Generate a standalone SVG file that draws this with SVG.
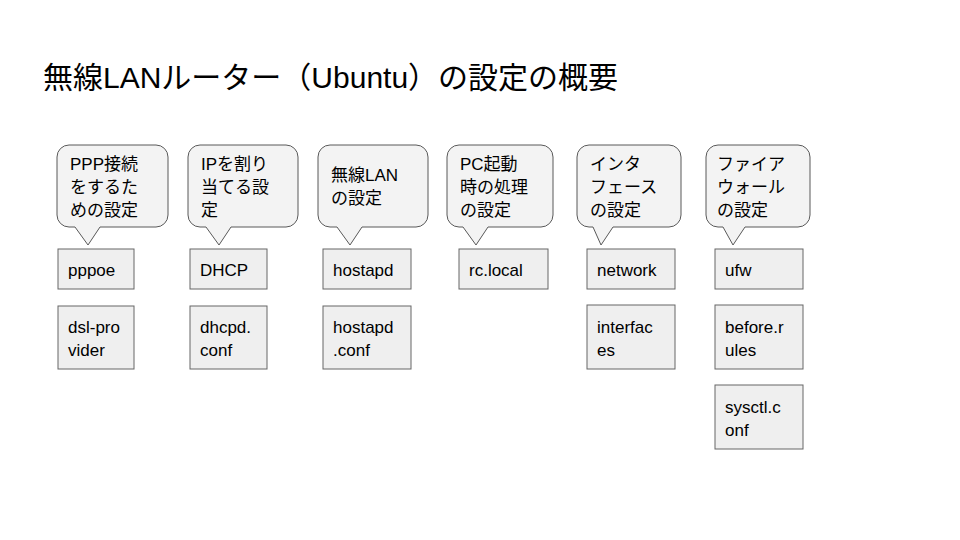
<svg xmlns="http://www.w3.org/2000/svg" width="960" height="540" viewBox="0 0 960 540">
<style>
text{font-family:"Liberation Sans","Noto Sans CJK JP",sans-serif;fill:#000}
.t{font-size:30px}
.c{font-size:17px}
.co{fill:#f3f3f3;stroke:#595959;stroke-width:1}
.b{fill:#efefef;stroke:#666;stroke-width:1}
</style>
<rect width="960" height="540" fill="#fff"/>
<text class="t" x="43" y="88">無線LANルーター（Ubuntu）の設定の概要</text>
<g id="callouts">
<g id="c1"><path class="co" d="M69,145H156A12,12 0 0 1 168,157V215A12,12 0 0 1 156,227H100L88,245L75,227H69A12,12 0 0 1 57,215V157A12,12 0 0 1 69,145Z"/><text class="c" x="70" y="170">PPP接続</text><text class="c" x="70" y="193">をするた</text><text class="c" x="70" y="216">めの設定</text></g>
<g id="c2"><path class="co" d="M200,145H286A12,12 0 0 1 298,157V215A12,12 0 0 1 286,227H231L219,245L206,227H200A12,12 0 0 1 188,215V157A12,12 0 0 1 200,145Z"/><text class="c" x="201" y="170">IPを割り</text><text class="c" x="201" y="193">当てる設</text><text class="c" x="201" y="216">定</text></g>
<g id="c3"><path class="co" d="M330,145H416A12,12 0 0 1 428,157V215A12,12 0 0 1 416,227H362L350,245L337,227H330A12,12 0 0 1 318,215V157A12,12 0 0 1 330,145Z"/><text class="c" x="331" y="181">無線LAN</text><text class="c" x="331" y="204">の設定</text></g>
<g id="c4"><path class="co" d="M459,145H541A12,12 0 0 1 553,157V215A12,12 0 0 1 541,227H488L476,245L463,227H459A12,12 0 0 1 447,215V157A12,12 0 0 1 459,145Z"/><text class="c" x="460" y="170">PC起動</text><text class="c" x="460" y="193">時の処理</text><text class="c" x="460" y="216">の設定</text></g>
<g id="c5"><path class="co" d="M589,145H669A12,12 0 0 1 681,157V215A12,12 0 0 1 669,227H613L601,245L593,227H589A12,12 0 0 1 577,215V157A12,12 0 0 1 589,145Z"/><text class="c" x="590" y="170">インタ</text><text class="c" x="590" y="193">フェース</text><text class="c" x="590" y="216">の設定</text></g>
<g id="c6"><path class="co" d="M718,145H798A12,12 0 0 1 810,157V215A12,12 0 0 1 798,227H745L733,245L723,227H718A12,12 0 0 1 706,215V157A12,12 0 0 1 718,145Z"/><text class="c" x="717" y="170">ファイア</text><text class="c" x="717" y="193">ウォール</text><text class="c" x="717" y="216">の設定</text></g>
</g>
<g id="boxes">
<g id="pppoe"><rect class="b" x="58" y="249" width="76" height="40"/><text class="c" x="68" y="276">pppoe</text></g>
<g id="dsl"><rect class="b" x="58" y="306" width="76" height="63"/><text class="c" x="68" y="333">dsl-pro</text><text class="c" x="68" y="356">vider</text></g>
<g id="dhcp"><rect class="b" x="190" y="249" width="77" height="40"/><text class="c" x="200" y="276">DHCP</text></g>
<g id="dhcpd"><rect class="b" x="190" y="306" width="77" height="63"/><text class="c" x="200" y="333">dhcpd.</text><text class="c" x="200" y="356">conf</text></g>
<g id="hostapd"><rect class="b" x="323" y="249" width="88" height="40"/><text class="c" x="333" y="276">hostapd</text></g>
<g id="hostapdconf"><rect class="b" x="323" y="306" width="88" height="63"/><text class="c" x="333" y="333">hostapd</text><text class="c" x="333" y="356">.conf</text></g>
<g id="rclocal"><rect class="b" x="459" y="249" width="89" height="40"/><text class="c" x="469" y="276">rc.local</text></g>
<g id="network"><rect class="b" x="587" y="249" width="88" height="40"/><text class="c" x="597" y="276">network</text></g>
<g id="interfaces"><rect class="b" x="587" y="305" width="88" height="64"/><text class="c" x="597" y="333">interfac</text><text class="c" x="597" y="356">es</text></g>
<g id="ufw"><rect class="b" x="715" y="249" width="88" height="40"/><text class="c" x="725" y="276">ufw</text></g>
<g id="beforerules"><rect class="b" x="715" y="305" width="88" height="64"/><text class="c" x="725" y="333">before.r</text><text class="c" x="725" y="356">ules</text></g>
<g id="sysctl"><rect class="b" x="715" y="385" width="88" height="64"/><text class="c" x="725" y="413">sysctl.c</text><text class="c" x="725" y="436">onf</text></g>
</g>
<g id="connectors"/>
</svg>
